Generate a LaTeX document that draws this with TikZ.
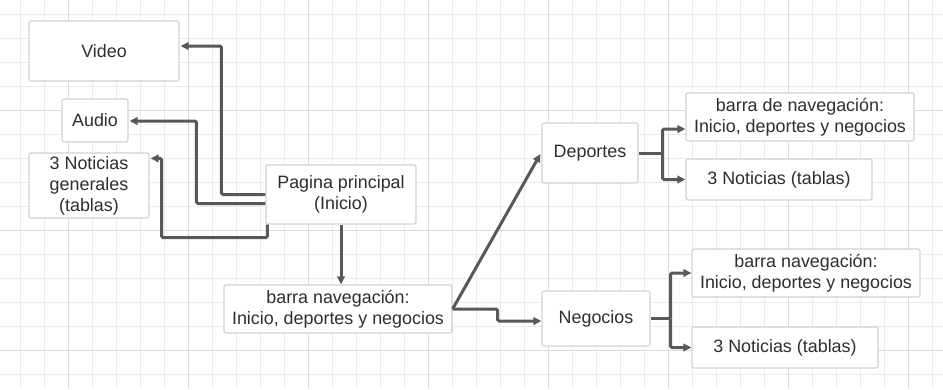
\documentclass[tikz,border=0pt]{standalone}
\usepackage{fontspec}
\setmainfont{Liberation Sans}
\usetikzlibrary{arrows.meta,calc}
\definecolor{gridminor}{HTML}{EBEBEB}
\definecolor{gridmajor}{HTML}{DADADA}
\definecolor{boxline}{HTML}{D2D2D2}
\definecolor{wire}{HTML}{585858}
\definecolor{ink}{HTML}{2E2E2E}
\tikzset{
  box/.style={draw=boxline, line width=1.2pt, rounded corners=2pt, fill=white,
    text=ink, align=center, inner sep=0pt,
    font=\fontsize{17.9}{21}\selectfont},
  conn/.style={draw=wire, line width=3pt, rounded corners=1.5pt,
    -{Triangle[length=8pt,width=7.5pt]}},
  link/.style={draw=wire, line width=3pt, rounded corners=1.5pt},
}
\begin{document}
\begin{tikzpicture}[x=1pt,y=-1pt]
\useasboundingbox (0,0) rectangle (943,389);
\fill[white] (0,0) rectangle (943,389);
% background grid
\foreach \gx in {0,...,38} {\draw[gridminor, line width=1pt] (20.7+24*\gx,0) -- (20.7+24*\gx,389);}
\foreach \gy in {0,...,15} {\draw[gridminor, line width=1pt] (0,14.3+24*\gy) -- (943,14.3+24*\gy);}
\foreach \gx in {0,...,7} {\draw[gridmajor, line width=1pt] (68.7+120*\gx,0) -- (68.7+120*\gx,389);}
\foreach \gy in {0,1,2} {\draw[gridmajor, line width=1pt] (0,110+120*\gy) -- (943,110+120*\gy);}

% boxes
\node[box, minimum width=150pt, minimum height=60pt] (video) at (104,51) {Video};
\node[box, minimum width=66pt, minimum height=43pt] (audio) at (95,120.5) {Audio};
\node[box, minimum width=120pt, minimum height=65pt] (notG) at (89,185.5) {3 Noticias\\generales\\(tablas)};
\node[box, minimum width=150pt, minimum height=59pt] (pagina) at (341,194.5) {Pagina principal\\(Inicio)};
\node[box, minimum width=228pt, minimum height=48pt] (barraC) at (338,309) {barra navegación:\\Inicio, deportes y negocios};
\node[box, minimum width=96pt, minimum height=60pt] (deportes) at (590,153) {Deportes};
\node[box, minimum width=228pt, minimum height=48pt] (barraD) at (800,117) {barra de navegación:\\Inicio, deportes y negocios};
\node[box, minimum width=186pt, minimum height=41pt] (notD) at (779,179.5) {3 Noticias (tablas)};
\node[box, minimum width=108pt, minimum height=55pt] (negocios) at (596,318.5) {Negocios};
\node[box, minimum width=228pt, minimum height=48pt] (barraN) at (806,273) {barra navegación:\\Inicio, deportes y negocios};
\node[box, minimum width=186pt, minimum height=41pt] (notN) at (785,347.5) {3 Noticias (tablas)};

% connectors from the main page
\draw[conn] (pagina.west) -- ++(-44,0) |- ($(video.east)+(1,-5)$);
\draw[conn] ($(pagina.west)+(0,9)$) -- ++(-69,0) |- ($(audio.east)+(1,0.5)$);
\draw[conn] ($(pagina.south west)+(2,0)$) -- ++(0,13) -| ($(notG.north east)+(12,6)$) -- ($(notG.north east)+(1,6)$);
\draw[conn] (pagina.south) -- (pagina.south |- barraC.north);

% navigation bar to sections
\draw[conn] (barraC.east) -- ($(deportes.west)+(-1,1)$);
\draw[conn] (barraC.east) -- ++(45,0) |- ($(negocios.west)+(0,2.5)$);

% section contents
\draw[link] (deportes.east) -- ++(24,0) coordinate (dsplit);
\draw[conn] (dsplit) |- ($(barraD.west)+(0,12)$);
\draw[conn] (dsplit) |- (notD.west);
\draw[link] (negocios.east) -- ++(20,0) coordinate (nsplit);
\draw[conn] (nsplit) |- (barraN.west);
\draw[conn] (nsplit) |- (notN.west);
\end{tikzpicture}
\end{document}
